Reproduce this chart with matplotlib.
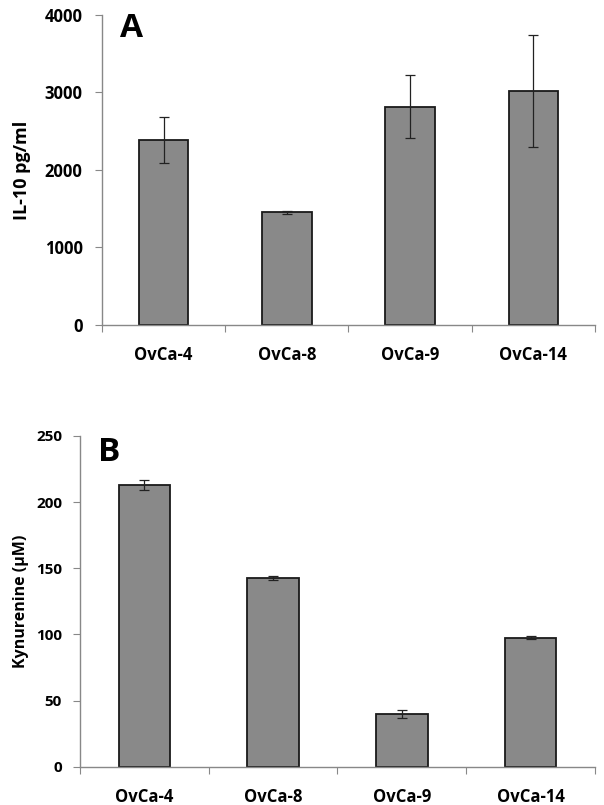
import matplotlib
matplotlib.use("Agg")
import matplotlib.pyplot as plt
import numpy as np

plt.rcParams['font.family'] = ['Open Sans', 'DejaVu Sans']

cells = ["OvCa-4", "OvCa-8", "OvCa-9", "OvCa-14"]
il10 = [2385, 1455, 2815, 3020]
il10_err = [300, 20, 405, 718]
kyn = [213, 142.5, 40, 97.5]
kyn_err = [3.5, 1.5, 3, 1.2]


def panel(ax, vals, errs, ymax, ystep, ylabel, letter, tick_fs, ytick_fs, lab_fs,
          lab_pad, ypad, letter_xy):
    x = np.arange(len(cells))
    ax.bar(x, vals, width=0.4, color="#898989", edgecolor="#1a1a1a", linewidth=1.3, zorder=2)
    ax.errorbar(x, vals, yerr=errs, fmt="none", ecolor="#222222", elinewidth=0.9,
                capsize=3.5, capthick=0.9, zorder=3)
    ax.set_xlim(-0.5, len(cells) - 0.5)
    ax.set_ylim(0, ymax)
    ax.set_yticks(np.arange(0, ymax + 1, ystep))
    ax.set_xticks(np.arange(-0.5, len(cells), 1.0))
    ax.set_xticklabels([])
    ax.set_xticks(x, minor=True)
    ax.set_xticklabels(cells, minor=True, fontsize=tick_fs, fontweight="bold")
    ax.tick_params(axis="x", which="minor", length=0, pad=15)
    ax.tick_params(axis="x", which="major", length=5, color="#888888", direction="out")
    ax.tick_params(axis="y", length=5, color="#888888", labelsize=ytick_fs, pad=ypad)
    for lab in ax.get_yticklabels():
        lab.set_fontweight("bold")
    for s in ("top", "right"):
        ax.spines[s].set_visible(False)
    for s in ("left", "bottom"):
        ax.spines[s].set_color("#888888")
        ax.spines[s].set_linewidth(1.0)
    ax.set_ylabel(ylabel, fontsize=lab_fs, fontweight="bold", labelpad=lab_pad)
    ax.text(letter_xy[0], letter_xy[1], letter, transform=ax.transAxes,
            fontsize=24, fontweight="bold", ha="center", va="center")


fig = plt.figure(figsize=(6.04, 8.05), dpi=100)
axA = fig.add_axes([0.1689, 0.5963, 0.985 - 0.1689, 0.9814 - 0.5963])
axB = fig.add_axes([0.1325, 0.0476, 0.985 - 0.1325, 0.4584 - 0.0476])

panel(axA, il10, il10_err, 4000, 1000, "IL-10 pg/ml", "A", 12, 12, 13, 10, 9, (0.06, 0.955))
panel(axB, kyn, kyn_err, 250, 50, "Kynurenine (µM)", "B", 12, 11, 11.5, 5, 8, (0.057, 0.95))

fig.savefig("out.png", dpi=100)
